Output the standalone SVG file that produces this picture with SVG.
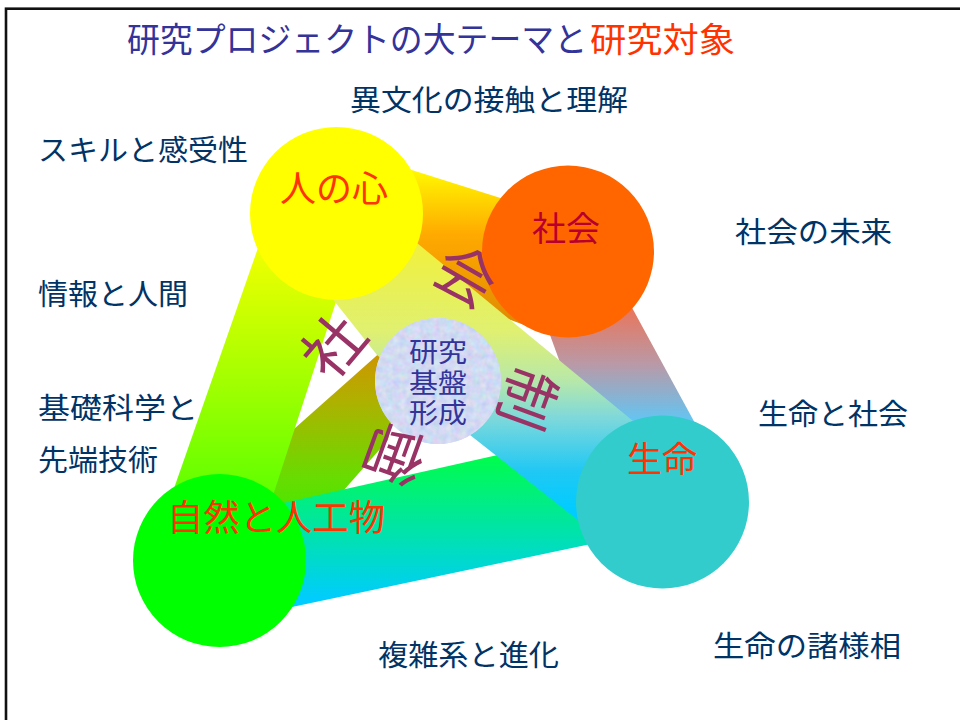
<svg xmlns="http://www.w3.org/2000/svg" width="960" height="720" viewBox="0 0 960 720">
<defs>
<style>
.lbl{font-family:"Noto Sans CJK JP","Noto Sans CJK SC",sans-serif;font-size:29px;fill:#003366}
.node{font-family:"Noto Sans CJK JP","Noto Sans CJK SC",sans-serif;font-size:36px;fill:#FF3300;text-anchor:middle}
.ctr{font-family:"Liberation Sans","Noto Sans CJK JP","Noto Sans CJK SC",sans-serif;font-size:27px;fill:#333399;text-anchor:middle}
.rot{font-family:"Noto Sans CJK JP","Noto Sans CJK SC",sans-serif;font-size:60px;fill:#993366;text-anchor:middle;dominant-baseline:central}
.title{font-family:"Noto Sans CJK JP","Noto Sans CJK SC",sans-serif;font-size:34px}
</style>
<linearGradient id="gLeft" gradientUnits="userSpaceOnUse" x1="0" y1="225" x2="0" y2="500">
<stop offset="0" stop-color="#FFFF00"/><stop offset="1" stop-color="#5CFF00"/></linearGradient>
<linearGradient id="gTop" gradientUnits="userSpaceOnUse" x1="0" y1="165" x2="0" y2="330">
<stop offset="0" stop-color="#FFFF00"/><stop offset="0.42" stop-color="#FFAA00"/><stop offset="1" stop-color="#DD8800"/></linearGradient>
<linearGradient id="gOlive" gradientUnits="userSpaceOnUse" x1="0" y1="330" x2="0" y2="540">
<stop offset="0" stop-color="#DD8800"/><stop offset="0.33" stop-color="#B0B000"/><stop offset="0.71" stop-color="#66DD00"/><stop offset="1" stop-color="#33EE00"/></linearGradient>
<linearGradient id="gRight" gradientUnits="userSpaceOnUse" x1="0" y1="300" x2="0" y2="430">
<stop offset="0" stop-color="#F07050"/><stop offset="0.5" stop-color="#B89AA8"/><stop offset="1" stop-color="#55CCFF"/></linearGradient>
<linearGradient id="gBottom" gradientUnits="userSpaceOnUse" x1="0" y1="450" x2="0" y2="600">
<stop offset="0" stop-color="#00FF44"/><stop offset="1" stop-color="#00CCFF"/></linearGradient>
<linearGradient id="gDiag" gradientUnits="userSpaceOnUse" x1="0" y1="250" x2="0" y2="510">
<stop offset="0" stop-color="#F0F040"/><stop offset="0.31" stop-color="#E0F070"/><stop offset="0.5" stop-color="#B8E8A8"/><stop offset="0.65" stop-color="#7CD8DC"/><stop offset="0.85" stop-color="#20C8F4"/><stop offset="1" stop-color="#00CCFF"/></linearGradient>
<filter id="tex" x="0" y="0" width="1" height="1" color-interpolation-filters="sRGB">
<feTurbulence type="fractalNoise" baseFrequency="0.15" numOctaves="2" seed="5" result="n"/>
<feColorMatrix in="n" type="matrix" values="0.22 0 0 0 0.71  0 0.16 0 0 0.775  0 0 0.1 0 0.9  0 0 0 0 1" result="c"/>
<feComposite in="c" in2="SourceGraphic" operator="in"/>
</filter>
</defs>
<rect x="6" y="8.7" width="1000" height="800" fill="#FFFFFF" stroke="#111111" stroke-width="2.6"/>
<g id="title">
<text class="title" x="127" y="52" fill="#333399" textLength="460" lengthAdjust="spacingAndGlyphs">研究プロジェクトの大テーマと</text>
<text class="title" x="590" y="52" fill="#FF3300" textLength="145" lengthAdjust="spacingAndGlyphs">研究対象</text>
</g>
<g id="connectors">
<polygon id="band-shizen-center" points="410,326 250,468 300,540 388,440" fill="url(#gOlive)"/>
<polygon id="band-kokoro-shizen" points="266,225 361,225 252,560 149,560" fill="url(#gLeft)"/>
<polygon id="band-kokoro-shakai" points="380,160 545,212 565,340 430,290 400,240" fill="url(#gTop)"/>
<polygon id="band-shakai-seimei" points="606,260 726,480 610,500 530,280" fill="url(#gRight)"/>
<polygon id="band-shizen-seimei" points="230,515 662,418 662,529 230,620" fill="url(#gBottom)"/>
<polygon id="band-kokoro-seimei" points="360,196 690,468 650,577 470,435 377,355 335,302 300,255" fill="url(#gDiag)"/>
</g>
<g id="node-kokoro">
<circle cx="336.5" cy="213.5" r="86.5" fill="#FFFF00"/>
<text class="node" x="334" y="202">人の心</text>
</g>
<g id="node-shakai">
<circle cx="568" cy="251.5" r="86" fill="#FF6600"/>
<text class="node" x="566" y="241" style="fill:#B8002E;font-size:34px">社会</text>
</g>
<g id="node-seimei">
<circle cx="662.5" cy="502" r="86.5" fill="#33CCCC"/>
<text class="node" x="662" y="472" style="font-size:35px">生命</text>
</g>
<g id="node-shizen">
<circle cx="219.5" cy="560.5" r="86.5" fill="#00FF00"/>
<text class="node" x="276" y="531" textLength="218" lengthAdjust="spacingAndGlyphs">自然と人工物</text>
</g>
<g id="node-center">
<circle cx="438" cy="381" r="63" fill="#D0D8F2"/>
<circle cx="438" cy="381" r="63" fill="#D0D8F2" filter="url(#tex)"/>
<text class="ctr"><tspan x="438" y="362" textLength="58" lengthAdjust="spacingAndGlyphs">研究</tspan><tspan x="438" y="393" textLength="58" lengthAdjust="spacingAndGlyphs">基盤</tspan><tspan x="438" y="423" textLength="58" lengthAdjust="spacingAndGlyphs">形成</tspan></text>
</g>
<g id="ring-text">
<text class="rot" x="330" y="343" transform="rotate(-50 330 343)">社</text>
<text class="rot" x="468" y="272" transform="rotate(30 468 272)">会</text>
<text class="rot" x="532" y="400" transform="rotate(110 532 400)">制</text>
<text class="rot" x="393" y="458" transform="rotate(200 393 458)">御</text>
</g>
<g id="labels">
<text class="lbl" x="350" y="111" textLength="278" lengthAdjust="spacingAndGlyphs">異文化の接触と理解</text>
<text class="lbl" x="38" y="161" textLength="210" lengthAdjust="spacingAndGlyphs">スキルと感受性</text>
<text class="lbl" x="735" y="243" textLength="157" lengthAdjust="spacingAndGlyphs">社会の未来</text>
<text class="lbl" x="38" y="305" textLength="150" lengthAdjust="spacingAndGlyphs">情報と人間</text>
<text class="lbl" x="38" y="419" textLength="160" lengthAdjust="spacingAndGlyphs">基礎科学と</text>
<text class="lbl" x="38" y="471" textLength="120" lengthAdjust="spacingAndGlyphs">先端技術</text>
<text class="lbl" x="758" y="425" textLength="150" lengthAdjust="spacingAndGlyphs">生命と社会</text>
<text class="lbl" x="378" y="666" textLength="181" lengthAdjust="spacingAndGlyphs">複雑系と進化</text>
<text class="lbl" x="713" y="657" textLength="188" lengthAdjust="spacingAndGlyphs">生命の諸様相</text>
</g>
</svg>
